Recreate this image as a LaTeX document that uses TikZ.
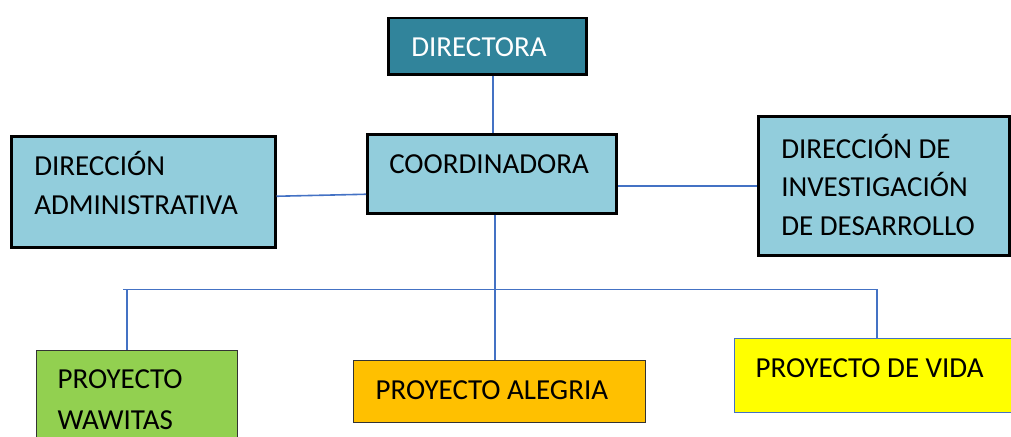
\documentclass[tikz,border=0pt]{standalone}
\usepackage{fontspec}
\setmainfont{Carlito}
\definecolor{azulosc}{HTML}{31849B}
\definecolor{celeste}{HTML}{92CDDC}
\definecolor{verde}{HTML}{92D050}
\definecolor{naranja}{HTML}{FFC000}
\definecolor{amarillo}{HTML}{FFFF00}
\definecolor{linea}{HTML}{4472C4}

\begin{document}
\begin{tikzpicture}[x=1pt, y=-1pt,
        caja/.style={draw=black, line width=2.5pt, anchor=north west, inner ysep=0pt, align=flush left, font=\fontsize{29}{39}\selectfont},
        cajafina/.style={caja, line width=1.4pt},
        conector/.style={draw=linea, line width=1.6pt}]
    \useasboundingbox (0,0) rectangle (1011,436);
    % cajas
    \node[caja, fill=azulosc, text=white, inner xsep=23pt, text width=152pt, text height=38pt, text depth=18pt] (dir) at (387,17) {DIRECTORA};
    \node[caja, fill=celeste, inner xsep=22pt, text width=205pt, text height=39pt, text depth=40pt] (coord) at (366,133) {COORDINADORA};
    \node[caja, fill=celeste, inner xsep=23pt, text width=218pt, text height=39pt, text depth=72pt] (adm) at (10,135) {DIRECCIÓN\\ADMINISTRATIVA};
    \node[caja, fill=celeste, inner xsep=23pt, text width=205pt, text height=42pt, text depth=97pt, font=\fontsize{29}{38.5}\selectfont] (inv) at (757,115) {DIRECCIÓN DE\\INVESTIGACIÓN\\DE DESARROLLO};
    \node[cajafina, draw=black!80, fill=verde, inner xsep=21pt, text width=159pt, text height=38pt, text depth=62pt, font=\fontsize{29}{41}\selectfont] (waw) at (36,350) {PROYECTO\\WAWITAS};
    \node[cajafina, draw=black!80, fill=naranja, inner xsep=22pt, text width=248pt, text height=39pt, text depth=23pt] (ale) at (353,360) {PROYECTO ALEGRIA};
    \node[cajafina, draw=linea, fill=amarillo, inner xsep=21pt, text width=248pt, text height=39pt, text depth=35pt] (vid) at (734,338) {PROYECTO DE VIDA};

    % lineas
    \coordinate (busL) at (123,289.5);
    \coordinate (bajaW) at (127,289.5);
    \coordinate (busR) at (877,289.5);
    \draw[conector] ([xshift=6pt]dir.south) -- ([xshift=6pt]dir.south |- coord.north);
    \draw[conector] ([yshift=-4.5pt]adm.east) -- ([yshift=-20.5pt]coord.west);
    \draw[conector] (inv.west) -- (inv.west -| coord.east);
    \draw[conector] ([xshift=3.5pt]coord.south) -- ([xshift=3.5pt]coord.south |- ale.north);
    \draw[conector] (busL) -- (busR) -- (busR |- vid.north);
    \draw[conector] (bajaW) -- (bajaW |- waw.north);
\end{tikzpicture}
\end{document}
